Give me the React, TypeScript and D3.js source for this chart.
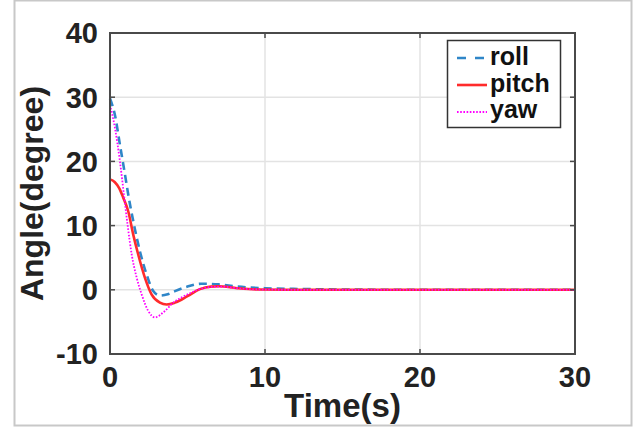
import React from 'react';
import * as d3 from 'd3';

// sampled off the reference plot (time in s, angle in degree)
const rollT = [0, 0.32, 0.64, 0.97, 1.18, 1.5, 1.93, 2.36, 2.79, 3.22, 3.72, 4.19, 5.0, 5.9, 7.0, 8.2, 10, 12.5, 15, 20, 25, 30];
const rollV = [29.8, 27.2, 22.6, 17.9, 14.8, 10.7, 6.0, 2.4, -0.2, -0.9, -0.7, -0.2, 0.5, 0.95, 0.85, 0.5, 0.25, 0.12, 0.05, 0, 0, 0];

const pitchT = [0, 0.3, 0.6, 0.86, 1.18, 1.5, 1.82, 2.25, 2.68, 3.22, 3.65, 4.19, 5.0, 5.8, 6.5, 7.0, 8.2, 9.5, 12, 20, 30];
const pitchV = [17.2, 16.8, 15.8, 14.3, 12.2, 8.6, 5.5, 1.9, -0.7, -2.0, -2.3, -2.0, -1.0, 0.1, 0.5, 0.55, 0.25, 0.05, 0, 0, 0];

const yawT = [0, 0.32, 0.64, 0.9, 1.14, 1.4, 1.72, 2.04, 2.47, 2.9, 3.54, 4.08, 4.6, 5.2, 5.8, 6.5, 7.2, 8.2, 9.5, 12, 20, 30];
const yawV = [28.8, 25.2, 20, 14.8, 10, 5.5, 1.9, -0.7, -3.3, -4.3, -3.3, -2.0, -1.2, -0.5, 0.1, 0.45, 0.5, 0.25, 0.05, 0, 0, 0];

const xTicks = [0, 10, 20, 30];
const yTicks = [-10, 0, 10, 20, 30, 40];
const seriesNames = ['roll', 'pitch', 'yaw'];

const FONT = '"Liberation Sans", Arial, Helvetica, sans-serif';

export default function App() {
  // plot box
  const left = 110, right = 575, top = 33, bottom = 354;

  const x = d3.scaleLinear().domain([0, 30]).range([left, right]);
  const y = d3.scaleLinear().domain([-10, 40]).range([bottom, top]);

  const line = d3.line<[number, number]>()
    .x(d => x(d[0]))
    .y(d => y(d[1]))
    .curve(d3.curveMonotoneX);

  const zip = (t: number[], v: number[]) => t.map((tt, i) => [tt, v[i]] as [number, number]);

  const series = [
    { name: seriesNames[0], pts: zip(rollT, rollV), color: '#2f86c8', width: 2.6, dash: '8 5', legDash: '9 9' },
    { name: seriesNames[1], pts: zip(pitchT, pitchV), color: '#ff2b2b', width: 2.6, dash: '', legDash: '' },
    { name: seriesNames[2], pts: zip(yawT, yawV), color: '#ff00ff', width: 1.8, dash: '1.6 1.6', legDash: '1.6 1.6' },
  ];

  const tickLen = 5;
  const axisColor = '#4a4a4a';

  return (
    <svg width={634} height={428} style={{ position: 'absolute', left: 0, top: 0 }} fontFamily={FONT}>
      <rect x={0} y={0} width={634} height={428} fill="#fff" />
      {/* outer frame */}
      <rect x={14.5} y={0.5} width={617} height={425} fill="none" stroke="#c8c8c8" strokeWidth={2} />

      {/* grid */}
      {xTicks.slice(1, -1).map(t => (
        <line key={'gx' + t} x1={x(t)} x2={x(t)} y1={top} y2={bottom} stroke="#e3e3e3" strokeWidth={1.5} />
      ))}
      {yTicks.slice(1, -1).map(t => (
        <line key={'gy' + t} x1={left} x2={right} y1={y(t)} y2={y(t)} stroke="#e3e3e3" strokeWidth={1.5} />
      ))}

      {/* data */}
      {series.map(s => (
        <path key={s.name} d={line(s.pts) || ''} fill="none" stroke={s.color}
              strokeWidth={s.width} strokeDasharray={s.dash || undefined} />
      ))}

      {/* ticks, all four sides pointing in */}
      {xTicks.map(t => (
        <g key={'tx' + t} stroke={axisColor} strokeWidth={1.5}>
          <line x1={x(t)} x2={x(t)} y1={bottom} y2={bottom - tickLen} />
          <line x1={x(t)} x2={x(t)} y1={top} y2={top + tickLen} />
        </g>
      ))}
      {yTicks.map(t => (
        <g key={'ty' + t} stroke={axisColor} strokeWidth={1.5}>
          <line x1={left} x2={left + tickLen} y1={y(t)} y2={y(t)} />
          <line x1={right} x2={right - tickLen} y1={y(t)} y2={y(t)} />
        </g>
      ))}

      {/* box */}
      <rect x={left} y={top} width={right - left} height={bottom - top} fill="none" stroke={axisColor} strokeWidth={2} />

      {/* tick labels */}
      {xTicks.map(t => (
        <text key={'lx' + t} x={x(t)} y={387} textAnchor="middle" fontSize={29} fontWeight="bold" fill="#222">{t}</text>
      ))}
      {yTicks.map(t => (
        <text key={'ly' + t} x={98} y={y(t)} dy="0.36em" textAnchor="end" fontSize={29} fontWeight="bold" fill="#222">{t}</text>
      ))}

      {/* axis titles */}
      <text x={(left + right) / 2} y={417} textAnchor="middle" fontSize={33} fontWeight="bold" fill="#222">Time(s)</text>
      <text transform={`translate(43,${(top + bottom) / 2}) rotate(-90)`} textAnchor="middle" fontSize={32} fontWeight="bold" fill="#222">Angle(degree)</text>

      {/* legend */}
      <rect x={447.5} y={40.5} width={113} height={87} fill="#fff" stroke="#333" strokeWidth={1.5} />
      {series.map((s, i) => (
        <g key={'lg' + s.name}>
          <line x1={457} x2={487} y1={58 + i * 27} y2={58 + i * 27} stroke={s.color}
                strokeWidth={s.width} strokeDasharray={s.legDash || undefined} />
          <text x={490} y={65 + i * 26.5} fontSize={25} fontWeight="bold" fill="#111">{s.name}</text>
        </g>
      ))}
    </svg>
  );
}
